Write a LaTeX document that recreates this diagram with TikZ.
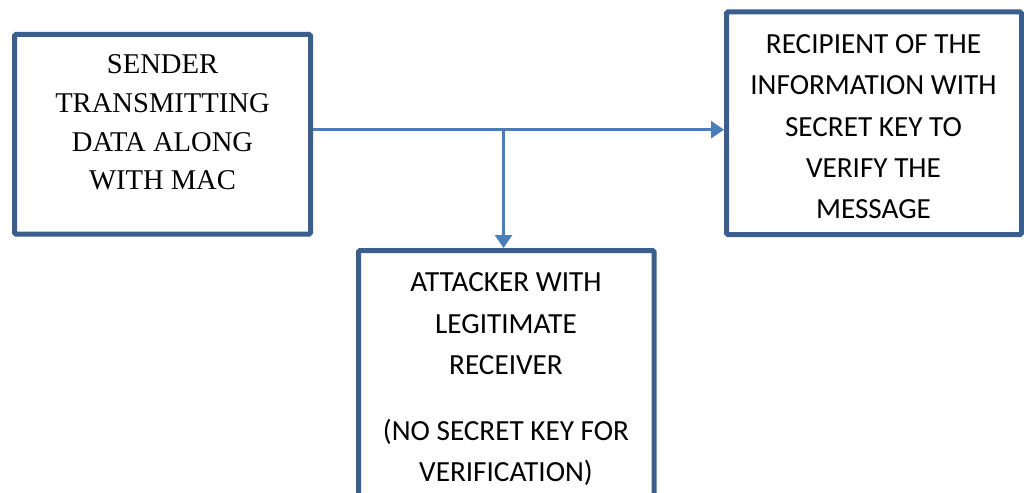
\documentclass[tikz,border=0pt]{standalone}
\usepackage{fontspec}
\setmainfont{Liberation Serif}
\newfontfamily\calfont{Carlito}
\usetikzlibrary{arrows.meta}

\definecolor{boxline}{HTML}{3A5F8E}
\definecolor{wire}{HTML}{4A7EBB}

\tikzset{
  framebox/.style={draw=boxline, line width=5pt, rounded corners=1.5pt, fill=white, inner sep=0pt},
  serifText/.style={anchor=north, align=center, inner sep=0pt, font=\fontsize{28.6}{38.7}\selectfont},
  sansText/.style={anchor=north, align=center, inner sep=0pt, font=\calfont\fontsize{29.2}{41.2}\selectfont},
  flow/.style={draw=wire, line width=2.5pt, -{Triangle[width=17pt,length=13pt]}},
}

\begin{document}
\begin{tikzpicture}[x=1pt, y=-1pt]
  \useasboundingbox (0,0) rectangle (1024,492);
  \clip (0,0) rectangle (1024,492);

  % the three boxes
  \node[framebox, minimum width=296pt, minimum height=199.5pt] (sender) at (162.5,134.25) {};
  \node[framebox, minimum width=295pt, minimum height=222.5pt] (recipient) at (874,123.25) {};
  \node[framebox, minimum width=295.5pt, minimum height=300pt] (attacker) at (506.25,400.5) {};

  % their labels
  \node[serifText] (senderText) at (162.5,54.5) {SENDER\\TRANSMITTING\\DATA ALONG\\WITH MAC};
  \node[sansText] (recipientText) at (873.5,34.5) {RECIPIENT OF THE\\INFORMATION WITH\\SECRET KEY TO\\VERIFY THE\\MESSAGE};
  \node[sansText] (attackerText) at (506,272.8) {ATTACKER WITH\\LEGITIMATE\\RECEIVER\\[25pt](NO SECRET KEY FOR\\VERIFICATION)};

  % message path and the tap towards the attacker
  \coordinate (tap) at (503.5,129.7);
  \draw[flow] (sender.east |- tap) -- (recipient.west |- tap);
  \draw[flow] (tap) -- (tap |- attacker.north);
\end{tikzpicture}
\end{document}
